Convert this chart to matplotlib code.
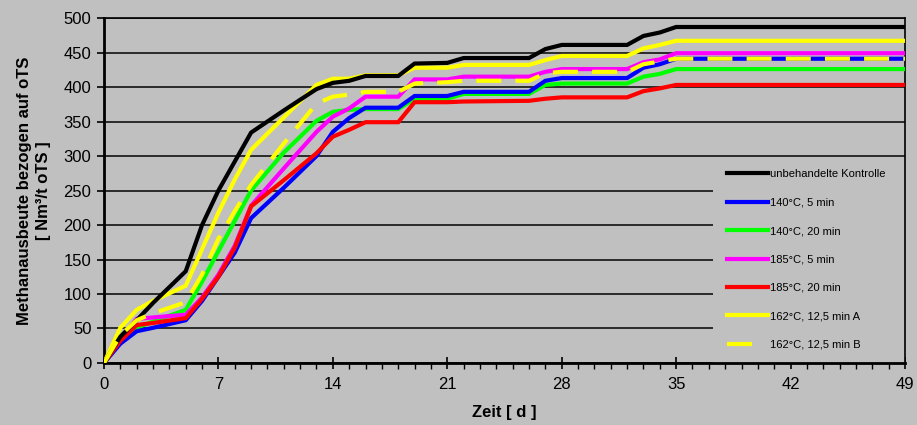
import matplotlib
matplotlib.use("Agg")
import matplotlib.pyplot as plt
import matplotlib.ticker as ticker
from matplotlib.patches import Rectangle

plt.rcParams['font.family'] = ['Liberation Sans', 'DejaVu Sans']

days = [0, 1, 2, 3, 5, 6, 7, 8, 9, 11, 13, 14, 15, 16, 18, 19, 21, 22, 26, 27, 28, 32, 33, 34, 35, 49]

kontrolle = [0, 38, 62, 87, 133, 200, 250, 292, 334, 366, 397, 406, 409, 416, 416, 434, 435, 442, 442, 455, 461, 461, 474, 479, 487, 487]
t140_5 = [0, 28, 46, 51, 62, 90, 125, 160, 210, 254, 300, 335, 355, 370, 370, 387, 387, 393, 393, 409, 413, 413, 428, 433, 441, 441]
t140_20 = [0, 30, 51, 60, 77, 118, 162, 206, 250, 305, 351, 364, 367, 368, 368, 383, 383, 390, 390, 403, 405, 405, 415, 419, 426, 426]
t185_5 = [0, 35, 64, 66, 70, 95, 128, 170, 228, 282, 335, 357, 369, 386, 386, 411, 411, 415, 415, 422, 426, 426, 436, 440, 449, 449]
t185_20 = [0, 32, 55, 58, 65, 93, 125, 167, 227, 265, 304, 328, 338, 349, 349, 378, 378, 379, 380, 383, 385, 385, 394, 398, 403, 403]
t162_a = [0, 51, 77, 90, 112, 165, 218, 266, 309, 356, 403, 412, 412, 417, 417, 428, 428, 432, 432, 439, 445, 445, 456, 461, 467, 467]
t162_b = [0, 40, 62, 72, 88, 128, 180, 220, 258, 318, 376, 386, 389, 393, 393, 405, 407, 409, 409, 420, 422, 422, 433, 437, 441, 441]

labels = ["unbehandelte Kontrolle", "140°C, 5 min", "140°C, 20 min", "185°C, 5 min",
          "185°C, 20 min", "162°C, 12,5 min A", "162°C, 12,5 min B"]
series = [kontrolle, t140_5, t140_20, t185_5, t185_20, t162_a, t162_b]
colors = ["#000000", "#0000FF", "#00FF00", "#FF00FF", "#FF0000", "#FFFF00", "#FFFF00"]
zorders = [3.6, 3.1, 3.0, 3.2, 3.3, 3.4, 3.7]

bg = "#C0C0C0"
fig = plt.figure(figsize=(9.17, 4.25), dpi=100, facecolor=bg)
ax = fig.add_axes([0.1134, 0.1459, 0.8735, 0.8117])
ax.set_facecolor(bg)

for i, vals in enumerate(series):
    ls = (0, (6, 3.4)) if i == 6 else '-'
    ax.plot(days, vals, color=colors[i], lw=3, ls=ls, label=labels[i],
            zorder=zorders[i], solid_joinstyle='miter')

ax.set_xlim(0, 49)
ax.set_ylim(0, 500)
ax.xaxis.set_major_locator(ticker.MultipleLocator(7))
ax.xaxis.set_minor_locator(ticker.MultipleLocator(1))
ax.yaxis.set_major_locator(ticker.MultipleLocator(50))

ax.set_axisbelow(True)
ax.grid(axis='y', color='#111111', lw=1.2)

ax.tick_params(axis='x', which='major', direction='inout', length=8.5, width=1.2,
               labelsize=12, pad=6)
ax.tick_params(axis='x', which='minor', direction='out', length=4, width=1)
ax.tick_params(axis='y', which='major', direction='out', length=5, width=1.2,
               labelsize=12, pad=4)

for s in ax.spines.values():
    s.set_color('black')
    s.set_linewidth(1.2)
ax.spines['left'].set_linewidth(2)
ax.spines['bottom'].set_linewidth(2)

# grey area behind the legend hides the grid lines
ax.add_patch(Rectangle((0.760, 0.0), 0.24, 0.594, transform=ax.transAxes,
                       facecolor=bg, edgecolor='none', zorder=1))

ax.set_xlabel("Zeit [ d ]", fontsize=12, fontweight='bold', labelpad=9)
ax.set_ylabel("Methanausbeute bezogen auf oTS\n[ Nm³/t oTS ]", fontsize=12,
              fontweight='bold', labelpad=9, linespacing=1.35)

leg = ax.legend(loc='upper left', bbox_to_anchor=(0.778, 0.562), frameon=False,
                fontsize=8, handlelength=3.7, handletextpad=0.15,
                labelspacing=1.66, borderpad=0, borderaxespad=0)
leg.set_zorder(5)
leg.get_lines()[6].set_linestyle((0, (6, 5)))

fig.savefig("out.png", dpi=100, facecolor=bg)
